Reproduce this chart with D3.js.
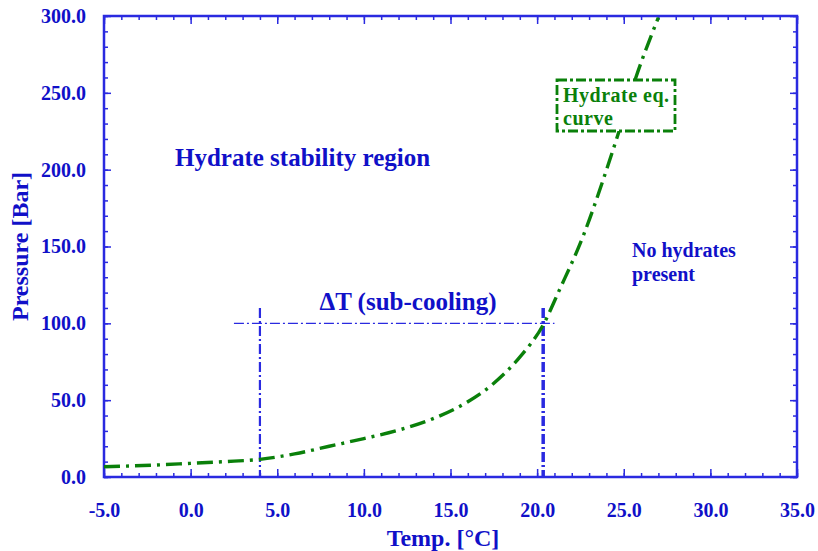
<!DOCTYPE html>
<html>
<head>
<meta charset="utf-8">
<script src="https://cdn.jsdelivr.net/npm/d3@7"></script>
<style>
  body { margin: 0; background: #fff; }
  svg { display: block; font-family: "Times New Roman", "Liberation Serif", serif; font-weight: bold; }
</style>
</head>
<body>
<script>
(function (d3) {
  "use strict";

  /***** Data *****/
  var tempC = [-5, -2, 0, 2, 4, 6, 8, 10, 12, 14, 16, 17.5, 19, 20.35, 21.3, 22.7, 23.8, 24.7, 25.7, 27.0];
  var pressureBar = [6.7, 7.8, 8.9, 10, 11.5, 15, 20, 25, 30.5, 38, 49, 61, 78, 99, 122, 158, 193, 224, 260, 299];
  var xTickValues = [-5, 0, 5, 10, 15, 20, 25, 30, 35];
  var yTickValues = [0, 50, 100, 150, 200, 250, 300];
  var subCoolTemps = [4.0, 20.35];
  var subCoolTop = 110;
  var refPressure = 100;
  var refRange = [2.5, 21.0];

  /***** Configuration *****/
  var width = 818, height = 551;
  var margin = { top: 16, right: 21, bottom: 74, left: 104 };
  var plotW = width - margin.left - margin.right;
  var plotH = height - margin.top - margin.bottom;
  var blue = "#2a2ae0", textBlue = "#1010c8", green = "#0a800a";
  var fmt = function (d) { return d.toFixed(1); };

  var x = d3.scaleLinear().domain([-5, 35]).range([0, plotW]);
  var y = d3.scaleLinear().domain([0, 300]).range([plotH, 0]);

  var svg = d3.select("body").append("svg")
      .attr("width", width)
      .attr("height", height);

  var g = svg.append("g")
      .attr("transform", "translate(" + margin.left + "," + margin.top + ")");

  /***** Axes *****/
  var xMinor = d3.range(-5, 35.01, 1);
  var yMinor = d3.range(0, 300.01, 10);

  function styleAxis(sel) {
    sel.select(".domain").remove();
    sel.selectAll("line").attr("stroke", blue).attr("stroke-width", 1.5);
    sel.selectAll("text").attr("fill", textBlue).style("font-size", "20px")
        .style("font-family", "'Times New Roman','Liberation Serif',serif").style("font-weight", "bold");
  }

  g.append("g").attr("transform", "translate(0," + plotH + ")")
      .call(d3.axisBottom(x).tickValues(xMinor).tickSize(-4).tickFormat("")).call(styleAxis);
  g.append("g").attr("transform", "translate(0," + plotH + ")")
      .call(d3.axisBottom(x).tickValues(xTickValues).tickSize(-8).tickPadding(26).tickFormat(fmt))
      .call(styleAxis);
  g.append("g")
      .call(d3.axisTop(x).tickValues(xMinor).tickSize(-4).tickFormat("")).call(styleAxis);
  g.append("g")
      .call(d3.axisTop(x).tickValues(xTickValues).tickSize(-8).tickFormat("")).call(styleAxis);

  g.append("g")
      .call(d3.axisLeft(y).tickValues(yMinor).tickSize(-4).tickFormat("")).call(styleAxis);
  g.append("g")
      .call(d3.axisLeft(y).tickValues(yTickValues).tickSize(-7).tickPadding(18).tickFormat(fmt))
      .call(styleAxis);
  g.append("g").attr("transform", "translate(" + plotW + ",0)")
      .call(d3.axisRight(y).tickValues(yMinor).tickSize(-4).tickFormat("")).call(styleAxis);
  g.append("g").attr("transform", "translate(" + plotW + ",0)")
      .call(d3.axisRight(y).tickValues(yTickValues).tickSize(-7).tickFormat("")).call(styleAxis);

  g.append("rect")
      .attr("width", plotW).attr("height", plotH)
      .attr("fill", "none").attr("stroke", blue).attr("stroke-width", 2.5);

  /***** Axis titles *****/
  svg.append("text")
      .attr("x", 443).attr("y", 546)
      .attr("text-anchor", "middle")
      .attr("fill", textBlue).style("font-size", "24px")
      .text("Temp. [°C]");

  svg.append("text")
      .attr("transform", "translate(28," + (margin.top + plotH / 2) + ") rotate(-90)")
      .attr("text-anchor", "middle")
      .attr("fill", textBlue).style("font-size", "24px")
      .text("Pressure [Bar]");

  /***** Sub-cooling markers *****/
  g.append("line")
      .attr("x1", x(refRange[0])).attr("x2", x(refRange[1]))
      .attr("y1", y(refPressure)).attr("y2", y(refPressure))
      .attr("stroke", blue).attr("stroke-width", 1.3)
      .attr("stroke-dasharray", "10,3,2,3");

  g.selectAll(".subcool").data(subCoolTemps).enter().append("line")
      .attr("class", "subcool")
      .attr("x1", function (d) { return x(d); }).attr("x2", function (d) { return x(d); })
      .attr("y1", y(subCoolTop)).attr("y2", y(0))
      .attr("stroke", blue)
      .attr("stroke-width", function (d, i) { return i === 0 ? 2.2 : 3.5; })
      .attr("stroke-dasharray", "10,3,2,3");

  /***** Hydrate curve *****/
  var line = d3.line()
      .x(function (d) { return x(d[0]); })
      .y(function (d) { return y(d[1]); })
      .curve(d3.curveMonotoneX);

  g.append("path")
      .datum(d3.zip(tempC, pressureBar))
      .attr("d", line)
      .attr("fill", "none")
      .attr("stroke", green).attr("stroke-width", 3.4)
      .attr("stroke-dasharray", "16,6,3,6");

  /***** Annotations *****/
  svg.append("rect")
      .attr("x", 557).attr("y", 80).attr("width", 118).attr("height", 51)
      .attr("fill", "#fff").attr("stroke", green).attr("stroke-width", 2.8)
      .attr("stroke-dasharray", "10,3,3,3");

  var eq = svg.append("text").attr("fill", green)
      .style("font-size", "20px").style("letter-spacing", "0.5px");
  eq.append("tspan").attr("x", 563).attr("y", 102).text("Hydrate eq.");
  eq.append("tspan").attr("x", 563).attr("y", 125).text("curve");

  svg.append("text")
      .attr("x", 175).attr("y", 166)
      .attr("fill", textBlue).style("font-size", "25px")
      .text("Hydrate stability region");

  svg.append("text")
      .attr("x", 408).attr("y", 310)
      .attr("text-anchor", "middle")
      .attr("fill", textBlue).style("font-size", "25px")
      .text("ΔT (sub-cooling)");

  var nh = svg.append("text").attr("fill", textBlue).style("font-size", "20px");
  nh.append("tspan").attr("x", 632).attr("y", 257).text("No hydrates");
  nh.append("tspan").attr("x", 632).attr("y", 281).text("present");

})(d3);
</script>
</body>
</html>
